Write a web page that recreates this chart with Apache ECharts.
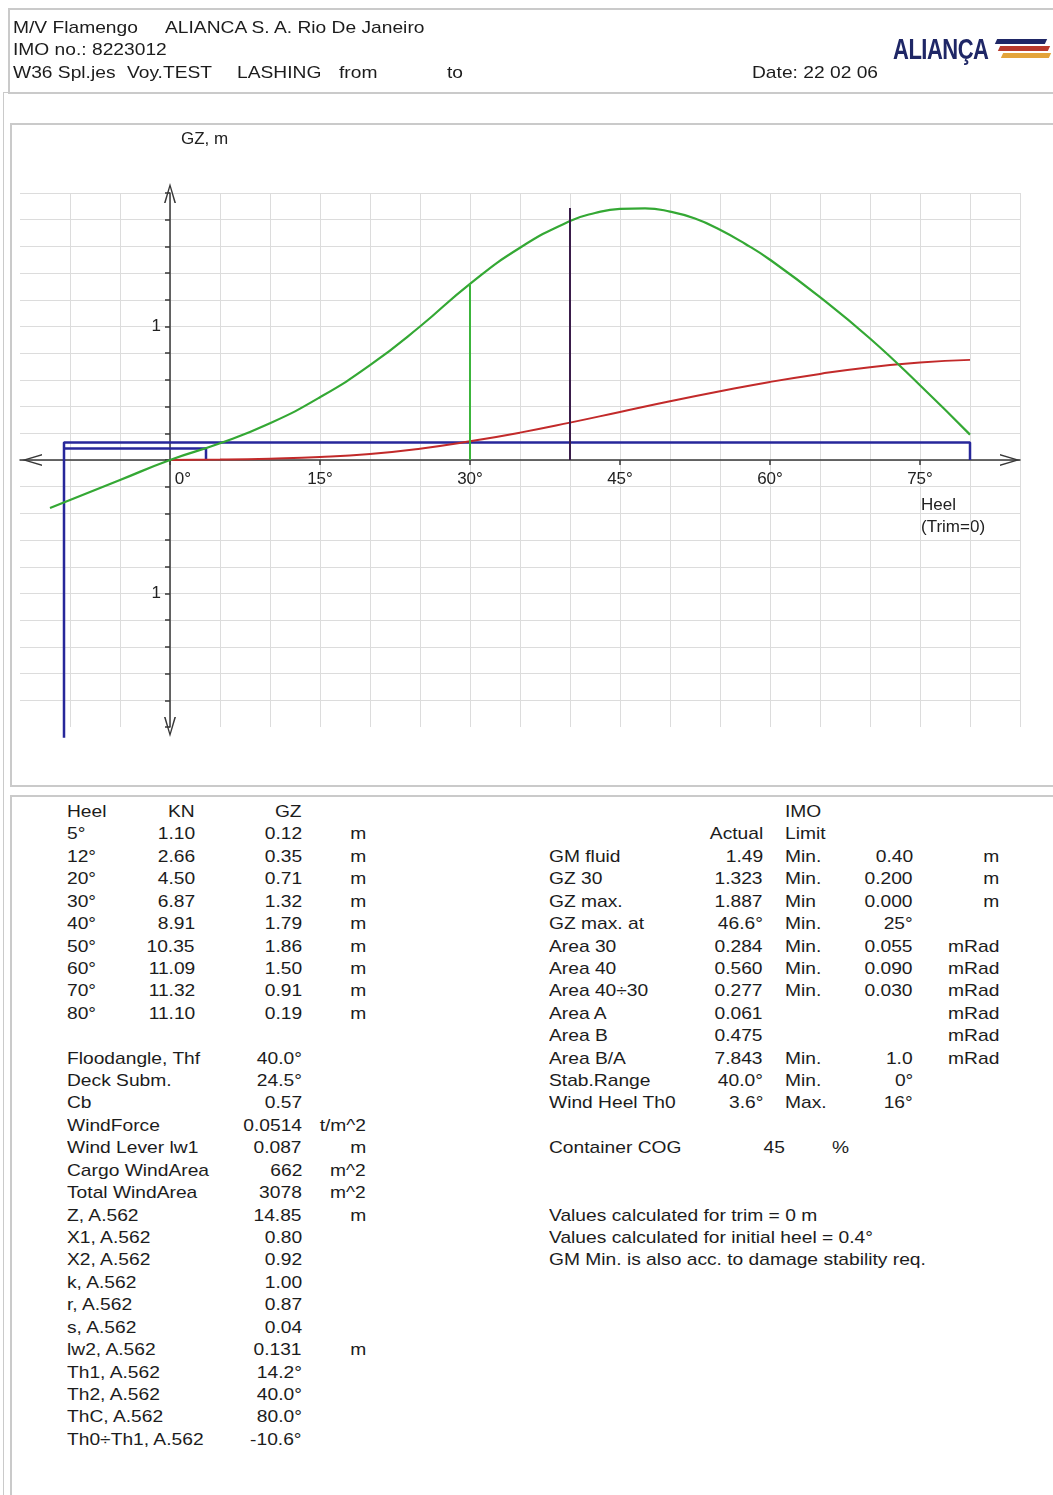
<!DOCTYPE html>
<html>
<head>
<meta charset="utf-8">
<title>GZ curve - M/V Flamengo</title>
<script src="https://cdn.jsdelivr.net/npm/echarts@6.0.0/dist/echarts.min.js"></script>
<style>
  html, body { margin: 0; padding: 0; background: #fff; }
  #page { position: relative; width: 1053px; height: 1495px; overflow: hidden; }
  .box { position: absolute; border: 2px solid #cacaca; box-sizing: border-box; }
  .t { position: absolute; font-family: 'Liberation Sans', Arial, sans-serif; font-size: 17px;
       line-height: 22px; white-space: pre; color: #1c1c1c; transform: scaleX(1.13); }
  #chart { position: absolute; left: 0; top: 0; width: 1053px; height: 800px; }
  .stripe { position: absolute; height: 5px; transform: skewX(-25deg); }
</style>
</head>
<body>
<div id="page">
  <div class="box" style="left:8px;top:8px;width:1060px;height:86px;"></div>
  <div class="box" style="left:3px;top:92px;width:1060px;height:1420px;border-width:1px;"></div>
  <div class="box" style="left:10px;top:123px;width:1060px;height:664px;"></div>
  <div class="box" style="left:10px;top:795px;width:1060px;height:720px;"></div>
  <div id="chart"></div>
  <div id="text"></div>
  <div style="position:absolute;left:893px;top:33px;font:bold 22px 'Liberation Sans',Arial,sans-serif;color:#1f2766;letter-spacing:-0.5px;transform:scaleY(1.3);transform-origin:0 0;">ALIANÇA</div>
  <div class="stripe" style="left:996px;top:39px;width:50px;background:#1f2766;"></div>
  <div class="stripe" style="left:999px;top:46px;width:50px;background:#b83a2c;"></div>
  <div class="stripe" style="left:1002px;top:53px;width:48px;background:#e3a43a;"></div>
</div>
<script>
  // GZ curve (heel deg, lever m)
  const gzHeel = [-12, -10, -5, 0, 5, 10, 15, 20, 25, 30, 35, 40, 42.5, 45, 47.5, 50, 52.5, 55, 57.5, 60, 65, 70, 75, 80];
  const gzLever = [-0.36, -0.30, -0.15, 0, 0.125, 0.275, 0.47, 0.71, 1.0, 1.32, 1.59, 1.79, 1.85, 1.881, 1.885, 1.861, 1.809, 1.725, 1.62, 1.50, 1.22, 0.91, 0.56, 0.19];
  // red heeling lever curve
  const armHeel = [0, 5, 10, 15, 20, 25, 30, 35, 40, 45, 50, 55, 60, 65, 70, 75, 80];
  const armLever = [0, 0.003, 0.01, 0.022, 0.045, 0.085, 0.14, 0.205, 0.28, 0.36, 0.44, 0.515, 0.585, 0.645, 0.695, 0.73, 0.75];
  // weather criterion values
  const th0 = 3.6, thC = 80.0, th0th1 = -10.6, lw1 = 0.087, lw2 = 0.131;
  const floodAngle = 40.0, gz30 = 1.323, gzMax = 1.887, leverFloor = -2.08;
  const heelTicks = [0, 15, 30, 45, 60, 75];

  // table
  const heelRows = ['5°', '12°', '20°', '30°', '40°', '50°', '60°', '70°', '80°'];
  const knRows = ['1.10', '2.66', '4.50', '6.87', '8.91', '10.35', '11.09', '11.32', '11.10'];
  const gzRows = ['0.12', '0.35', '0.71', '1.32', '1.79', '1.86', '1.50', '0.91', '0.19'];
  const partNames = ['Floodangle, Thf', 'Deck Subm.', 'Cb', 'WindForce', 'Wind Lever lw1', 'Cargo WindArea', 'Total WindArea',
    'Z, A.562', 'X1, A.562', 'X2, A.562', 'k, A.562', 'r, A.562', 's, A.562', 'lw2, A.562', 'Th1, A.562', 'Th2, A.562', 'ThC, A.562', 'Th0÷Th1, A.562'];
  const partValues = ['40.0°', '24.5°', '0.57', '0.0514', '0.087', '662', '3078', '14.85', '0.80', '0.92', '1.00', '0.87', '0.04',
    '0.131', '14.2°', '40.0°', '80.0°', '-10.6°'];
  const partUnits = ['', '', '', 't/m^2', 'm', 'm^2', 'm^2', 'm', '', '', '', '', '', 'm', '', '', '', ''];
  const critNames = ['GM fluid', 'GZ 30', 'GZ max.', 'GZ max. at', 'Area 30', 'Area 40', 'Area 40÷30', 'Area A', 'Area B', 'Area B/A', 'Stab.Range', 'Wind Heel Th0'];
  const critActual = ['1.49', '1.323', '1.887', '46.6°', '0.284', '0.560', '0.277', '0.061', '0.475', '7.843', '40.0°', '3.6°'];
  const critKind = ['Min.', 'Min.', 'Min', 'Min.', 'Min.', 'Min.', 'Min.', '', '', 'Min.', 'Min.', 'Max.'];
  const critLimit = ['0.40', '0.200', '0.000', '25°', '0.055', '0.090', '0.030', '', '', '1.0', '0°', '16°'];
  const critUnits = ['m', 'm', 'm', '', 'mRad', 'mRad', 'mRad', 'mRad', 'mRad', 'mRad', '', ''];
  const notes = ['Values calculated for trim = 0 m', 'Values calculated for initial heel = 0.4°', 'GM Min. is also acc. to damage stability req.'];

  const textBox = document.getElementById('text');
  function put(str, x, y, right) {
    if (!str) return;
    let d = document.createElement('div');
    d.className = 't';
    d.textContent = str;
    d.style.top = (y - 11) + 'px';
    if (right) {
      d.style.right = (1053 - x) + 'px';
      d.style.transformOrigin = 'right center';
    } else {
      d.style.left = x + 'px';
      d.style.transformOrigin = 'left center';
    }
    textBox.appendChild(d);
  }

  // header
  put('M/V Flamengo', 13, 28); put('ALIANCA S. A. Rio De Janeiro', 165, 28);
  put('IMO no.: 8223012', 13, 50);
  put('W36 Spl.jes', 13, 73); put('Voy.TEST', 127, 73); put('LASHING', 237, 73);
  put('from', 339, 73); put('to', 447, 73); put('Date: 22 02 06', 752, 73);

  const rowY = i => 812 + 22.42 * i;
  put('Heel', 67, rowY(0)); put('KN', 195, rowY(0), true); put('GZ', 302, rowY(0), true);
  heelRows.forEach((h, i) => {
    put(h, 67, rowY(i + 1));
    put(knRows[i], 195, rowY(i + 1), true);
    put(gzRows[i], 302, rowY(i + 1), true);
    put('m', 366, rowY(i + 1), true);
  });
  partNames.forEach((n, i) => {
    put(n, 67, rowY(i + 11));
    put(partValues[i], 302, rowY(i + 11), true);
    put(partUnits[i], 366, rowY(i + 11), true);
  });

  put('IMO', 785, rowY(0)); put('Actual', 763, rowY(1), true); put('Limit', 785, rowY(1));
  critNames.forEach((n, i) => {
    put(n, 549, rowY(i + 2));
    put(critActual[i], 763, rowY(i + 2), true);
    put(critKind[i], 785, rowY(i + 2));
    put(critLimit[i], 913, rowY(i + 2), true);
    put(critUnits[i], 999, rowY(i + 2), true);
  });
  put('Container COG', 549, rowY(15)); put('45', 785, rowY(15), true); put('%', 832, rowY(15));
  notes.forEach((n, i) => put(n, 549, rowY(18 + i)));

  // chart
  const chart = echarts.init(document.getElementById('chart'));
  const arrow = 'path://M0,200 L60,0 L120,200 L104,200 L60,46 L16,200 Z';
  const axisColor = '#383838';
  const gridColor = '#dcdcdc';
  const font = 'Liberation Sans, Arial, sans-serif';

  const option = {
    animation: false,
    textStyle: { fontFamily: font },
    grid: [
      // main plot area
      { left: 20, right: 33, top: 193, height: 534, outerBoundsMode: 'none' },
      // heel labels, 0..75 deg along the zero line
      { left: 170, width: 750, top: 193, height: 267, outerBoundsMode: 'none' },
      // GZ labels beside the zero-heel axis
      { left: 170, width: 750, top: 193, height: 534, outerBoundsMode: 'none' }
    ],
    xAxis: [
      {
        type: 'value', gridIndex: 0, min: -15, max: 85, interval: 5,
        axisLine: { onZero: true, symbol: [arrow, arrow], symbolSize: [12, 20], symbolOffset: [12, -10],
          lineStyle: { color: axisColor, width: 1.5 } },
        axisTick: { show: false },
        axisLabel: { show: false },
        splitLine: { show: true, showMinLine: false, lineStyle: { color: gridColor, width: 1 } }
      },
      {
        type: 'value', gridIndex: 1, min: heelTicks[0], max: heelTicks[heelTicks.length - 1], interval: 15,
        axisLine: { show: false },
        axisTick: { show: true, length: 5, lineStyle: { color: axisColor, width: 1.5 } },
        axisLabel: {
          margin: 11, fontSize: 17, color: '#222',
          formatter: v => v === 0 ? '{z|0°}' : v + '°',
          rich: { z: { padding: [0, 0, 0, 26], fontSize: 17, color: '#222' } }
        },
        splitLine: { show: false }
      },
      { type: 'value', gridIndex: 2, min: 0, max: 1, show: false }
    ],
    yAxis: [
      {
        type: 'value', gridIndex: 0, min: -2, max: 2, interval: 0.2,
        axisLine: { show: true, onZero: true, symbol: [arrow, arrow], symbolSize: [12, 20],
          lineStyle: { color: axisColor, width: 1.5 } },
        axisTick: { show: true, length: 5, lineStyle: { color: axisColor, width: 1.5 } },
        axisLabel: { show: false },
        splitLine: { show: true, showMinLine: false, lineStyle: { color: gridColor, width: 1 } }
      },
      { type: 'value', gridIndex: 1, min: 0, max: 1, show: false },
      {
        type: 'value', gridIndex: 2, min: -2, max: 2, interval: 1,
        axisLine: { show: false }, axisTick: { show: false }, splitLine: { show: false },
        axisLabel: { margin: 9, fontSize: 17, color: '#222',
          formatter: v => Math.abs(v) === 1 ? '1' : '' }
      }
    ],
    graphic: [
      { type: 'text', left: 181, top: 131, style: { text: 'GZ, m', fontSize: 17, fontFamily: font, fill: '#222' } },
      { type: 'text', left: 921, top: 494, style: { text: 'Heel\n(Trim=0)', fontSize: 17, lineHeight: 22, fontFamily: font, fill: '#222' } }
    ],
    series: [
      {
        name: 'lw2', type: 'line', symbol: 'none', clip: false,
        data: [[th0th1, leverFloor], [th0th1, lw2], [thC, lw2], [thC, 0]],
        lineStyle: { color: '#27279a', width: 2.5 }
      },
      {
        name: 'lw1', type: 'line', symbol: 'none',
        data: [[th0th1, lw1], [th0, lw1], [th0, 0]],
        lineStyle: { color: '#27279a', width: 2.5 }
      },
      {
        name: 'heel arm', type: 'line', symbol: 'none', smooth: 0.5,
        data: armHeel.map((h, i) => [h, armLever[i]]),
        lineStyle: { color: '#c22a2a', width: 2 }
      },
      {
        name: 'GZ', type: 'line', symbol: 'none', smooth: 0.5,
        data: gzHeel.map((h, i) => [h, gzLever[i]]),
        lineStyle: { color: '#34a834', width: 2.2 }
      },
      {
        name: 'GZ 30', type: 'line', symbol: 'none',
        data: [[30, 0], [30, gz30]],
        lineStyle: { color: '#3cb53c', width: 2 }
      },
      {
        name: 'Floodangle', type: 'line', symbol: 'none',
        data: [[floodAngle, 0], [floodAngle, gzMax]],
        lineStyle: { color: '#3a1d4a', width: 2 }
      }
    ]
  };
  chart.setOption(option);
</script>
</body>
</html>
